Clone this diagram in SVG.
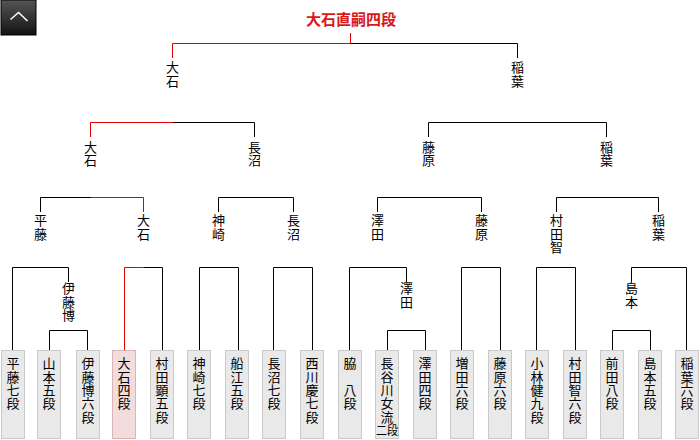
<svg xmlns="http://www.w3.org/2000/svg" width="700" height="440" viewBox="0 0 700 440">
<defs>
<linearGradient id="btn" x1="0" y1="0" x2="0" y2="1">
<stop offset="0" stop-color="#565656"/>
<stop offset="1" stop-color="#121212"/>
</linearGradient>
<style>
.ln{stroke:#000;stroke-width:1;fill:none}
.rd{stroke:#e00000;stroke-width:1;fill:none}
.box{fill:#e9e9e9;stroke:#c9c9c9;stroke-width:1}
.win{fill:#f3dcdc;stroke:#d9b6b6;stroke-width:1}
.v{font-family:"Noto Sans CJK JP","Noto Sans CJK SC",sans-serif;font-size:13px;writing-mode:vertical-rl;letter-spacing:0.3px;fill:#000}
.h{font-family:"Noto Sans CJK JP","Noto Sans CJK SC",sans-serif;font-size:12px;fill:#000}
.title{font-family:"Noto Sans CJK JP","Noto Sans CJK SC",sans-serif;font-size:15px;font-weight:bold;fill:#d81818}
</style>
</defs>
<rect width="700" height="440" fill="#fff"/>
<g id="btn-top">
<rect x="1" y="0" width="35" height="35" fill="url(#btn)" stroke="#000" stroke-width="1"/>
<polyline points="10.5,19.5 18.5,12.5 27.5,21" fill="none" stroke="#fff" stroke-width="1.5"/>
</g>
<g id="connectors">
<path class="rd" d="M350.5,33 V43.5"/>
<path class="rd" d="M172.5,58 V43.5 H350.5"/>
<path class="ln" d="M350.5,43.5 H517.5 V58"/>
<path class="rd" d="M90.5,137 V122.5 H173"/>
<path class="ln" d="M173,122.5 H254.5 V137"/>
<path class="ln" d="M428.5,137 V122.5 H606.5 V137"/>
<path class="ln" d="M40.5,212 V197.5 H91"/>
<path class="rd" d="M91,197.5 H143.5 V212"/>
<path class="ln" d="M218.5,212 V197.5 H293.5 V212"/>
<path class="ln" d="M377.5,212 V197.5 H481.5 V212"/>
<path class="ln" d="M556.5,212 V197.5 H658.5 V212"/>
<path class="ln" d="M12.5,350 V267.5 H68.5 V282"/>
<path class="rd" d="M124.5,350 V267.5 H143.5"/>
<path class="ln" d="M143.5,267.5 H162.5 V350"/>
<path class="ln" d="M199.5,350 V267.5 H238.5 V350"/>
<path class="ln" d="M273.5,350 V267.5 H312.5 V350"/>
<path class="ln" d="M349.5,350 V267.5 H406.5 V282"/>
<path class="ln" d="M461.5,350 V267.5 H500.5 V350"/>
<path class="ln" d="M536.5,350 V267.5 H575.5 V350"/>
<path class="ln" d="M631.5,282 V267.5 H686.5 V350"/>
<path class="ln" d="M49.5,350 V330.5 H87.5 V350"/>
<path class="ln" d="M387.5,350 V330.5 H425.5 V350"/>
<path class="ln" d="M612.5,350 V330.5 H650.5 V350"/>
</g>
<g id="winner"><text class="title" x="351" y="25" text-anchor="middle">大石直嗣四段</text></g>
<g id="l1-oishi"><text class="v" x="172.5" y="61">大石</text></g>
<g id="l1-inaba"><text class="v" x="517.5" y="61">稲葉</text></g>
<g id="l2-oishi"><text class="v" x="90.5" y="140.5">大石</text></g>
<g id="l2-naganuma"><text class="v" x="254.5" y="140.5">長沼</text></g>
<g id="l2-fujiwara"><text class="v" x="428.5" y="140.5">藤原</text></g>
<g id="l2-inaba"><text class="v" x="606.5" y="140.5">稲葉</text></g>
<g id="l3-hirafuji"><text class="v" x="40.5" y="214">平藤</text></g>
<g id="l3-oishi"><text class="v" x="143.5" y="214">大石</text></g>
<g id="l3-kanzaki"><text class="v" x="218.5" y="214">神崎</text></g>
<g id="l3-naganuma"><text class="v" x="293.5" y="214">長沼</text></g>
<g id="l3-sawada"><text class="v" x="377.5" y="214">澤田</text></g>
<g id="l3-fujiwara"><text class="v" x="481.5" y="214">藤原</text></g>
<g id="l3-murata"><text class="v" x="556.5" y="214">村田智</text></g>
<g id="l3-inaba"><text class="v" x="658.5" y="214">稲葉</text></g>
<g id="l4-ito"><text class="v" x="68.5" y="282">伊藤博</text></g>
<g id="l4-sawada"><text class="v" x="406.5" y="282">澤田</text></g>
<g id="l4-shimamoto"><text class="v" x="631.5" y="282">島本</text></g>
<g id="p1"><rect class="box" x="1.5" y="350.5" width="23" height="88"/><text class="v" x="13" y="357">平藤七段</text></g>
<g id="p2"><rect class="box" x="37.5" y="350.5" width="23" height="88"/><text class="v" x="49" y="357">山本五段</text></g>
<g id="p3"><rect class="box" x="76.5" y="350.5" width="23" height="88"/><text class="v" x="88" y="357">伊藤博六段</text></g>
<g id="p4"><rect class="win" x="112.5" y="350.5" width="23" height="88"/><text class="v" x="124" y="357">大石四段</text></g>
<g id="p5"><rect class="box" x="150.5" y="350.5" width="23" height="88"/><text class="v" x="162" y="357">村田顕五段</text></g>
<g id="p6"><rect class="box" x="187.5" y="350.5" width="23" height="88"/><text class="v" x="199" y="357">神崎七段</text></g>
<g id="p7"><rect class="box" x="225.5" y="350.5" width="23" height="88"/><text class="v" x="237" y="357">船江五段</text></g>
<g id="p8"><rect class="box" x="262.5" y="350.5" width="23" height="88"/><text class="v" x="274" y="357">長沼七段</text></g>
<g id="p9"><rect class="box" x="300.5" y="350.5" width="23" height="88"/><text class="v" x="312" y="357">西川慶七段</text></g>
<g id="p10"><rect class="box" x="338.5" y="350.5" width="23" height="88"/><text class="v" x="350" y="357">脇　八段</text></g>
<g id="p11"><rect class="box" x="375.5" y="350.5" width="23" height="88"/><text class="v" x="387" y="357">長谷川女流</text><text class="h" x="387" y="435" text-anchor="middle" textLength="22" lengthAdjust="spacingAndGlyphs">二段</text></g>
<g id="p12"><rect class="box" x="413.5" y="350.5" width="23" height="88"/><text class="v" x="425" y="357">澤田四段</text></g>
<g id="p13"><rect class="box" x="450.5" y="350.5" width="23" height="88"/><text class="v" x="462" y="357">増田六段</text></g>
<g id="p14"><rect class="box" x="488.5" y="350.5" width="23" height="88"/><text class="v" x="500" y="357">藤原六段</text></g>
<g id="p15"><rect class="box" x="525.5" y="350.5" width="23" height="88"/><text class="v" x="537" y="357">小林健九段</text></g>
<g id="p16"><rect class="box" x="563.5" y="350.5" width="23" height="88"/><text class="v" x="575" y="357">村田智六段</text></g>
<g id="p17"><rect class="box" x="600.5" y="350.5" width="23" height="88"/><text class="v" x="612" y="357">前田八段</text></g>
<g id="p18"><rect class="box" x="638.5" y="350.5" width="23" height="88"/><text class="v" x="650" y="357">島本五段</text></g>
<g id="p19"><rect class="box" x="675.5" y="350.5" width="23" height="88"/><text class="v" x="687" y="357">稲葉六段</text></g>
</svg>
